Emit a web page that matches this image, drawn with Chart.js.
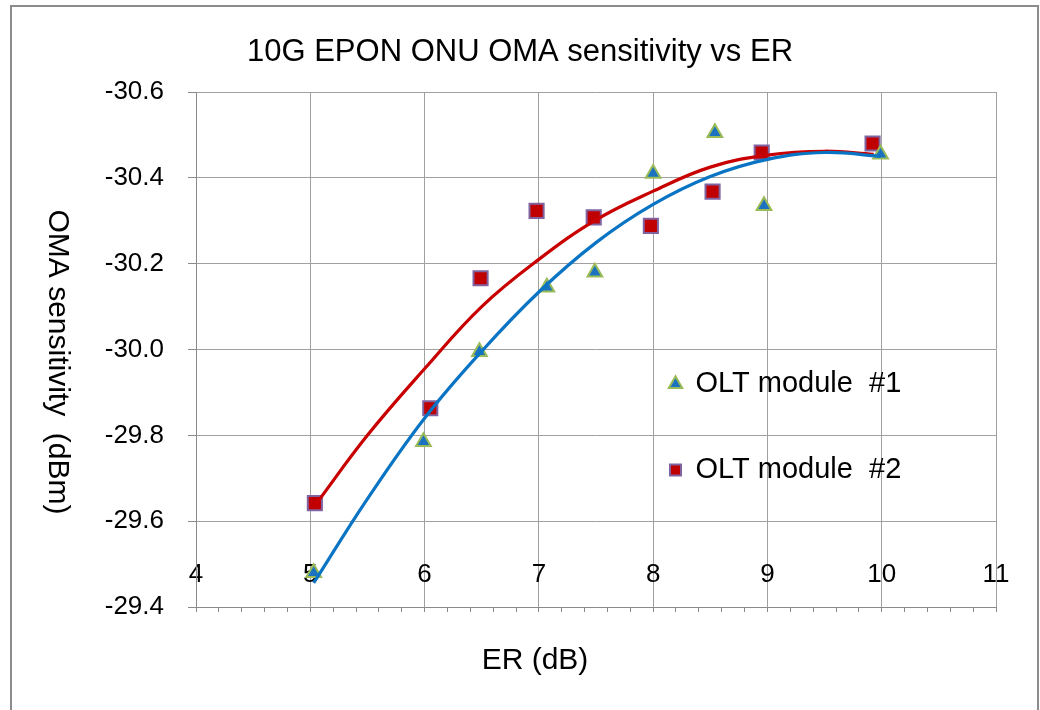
<!DOCTYPE html>
<html>
<head>
<meta charset="utf-8">
<script src="https://cdn.jsdelivr.net/npm/chart.js@4.4.1/dist/chart.umd.min.js"></script>
<style>
  html, body { margin: 0; padding: 0; background: #ffffff; }
  #wrap { width: 1040px; height: 710px; position: relative; }
</style>
</head>
<body>
<div id="wrap"><canvas id="c" width="1040" height="710"></canvas></div>
<script>
// ---- text ----
const chartTitle = '10G EPON ONU OMA sensitivity vs ER';
const xAxisTitle = 'ER (dB)';
const yAxisTitle = 'OMA sensitivity  (dBm)';
const seriesNames = ['OLT module  #1', 'OLT module  #2'];

// ---- tick labels ----
const erTicks = [4, 5, 6, 7, 8, 9, 10, 11];
const erMinorPerUnit = 5;
const omaTicks = [-30.6, -30.4, -30.2, -30.0, -29.8, -29.6, -29.4];

// ---- measured points ----
const module1ER  = [5.03, 5.99, 6.48, 7.07, 7.49, 8.00, 8.54, 8.97, 9.99];
const module1OMA = [-29.48, -29.785, -29.995, -30.145, -30.18, -30.41, -30.505, -30.335, -30.455];
const module2ER  = [5.04, 6.05, 6.49, 6.98, 7.48, 7.98, 8.52, 8.95, 9.92];
const module2OMA = [-29.642, -29.863, -30.166, -30.323, -30.308, -30.288, -30.368, -30.459, -30.48];

// ---- trend lines ----
const trend1ER  = [5.03, 5.5, 6.0, 6.5, 7.0, 7.5, 8.0, 8.5, 9.0, 9.5, 9.99];
const trend1OMA = [-29.456, -29.652, -29.84, -29.996, -30.134, -30.249, -30.338, -30.403, -30.443, -30.459, -30.45];
const trend2ER  = [5.05, 5.5, 6.0, 6.5, 7.0, 7.5, 8.0, 8.5, 9.0, 9.5, 9.93];
const trend2OMA = [-29.64, -29.80, -29.955, -30.10, -30.21, -30.302, -30.369, -30.425, -30.453, -30.462, -30.455];

const FONT = '"Liberation Sans", Arial, Helvetica, sans-serif';
Chart.defaults.font.family = FONT;
Chart.defaults.color = '#000000';

const xTickValues = [];
for (let k = erTicks[0] * erMinorPerUnit; k <= erTicks[erTicks.length - 1] * erMinorPerUnit; k++) {
  xTickValues.push(k / erMinorPerUnit);
}
const pts = (xs, ys) => xs.map((x, i) => ({ x: x, y: ys[i] }));

const GRID = '#a0a0a0';
const AXIS = '#8a8a8a';

const framePlugin = {
  id: 'framePlugin',
  beforeDraw(chart) {
    const ctx = chart.ctx;
    ctx.save();
    ctx.fillStyle = '#ffffff';
    ctx.fillRect(0, 0, chart.width, chart.height);
    ctx.strokeStyle = '#8c8c8c';
    ctx.lineWidth = 2;
    ctx.strokeRect(11, 6, 1027, 730);
    ctx.restore();
  },
  afterLayout(chart) {
    const lg = chart.legend;
    if (!lg) return;
    lg.left = 613;
    lg.top = 312.5;
    lg.right = lg.left + lg.width;
    lg.bottom = lg.top + lg.height;
  },
  afterDraw(chart) {
    const ctx = chart.ctx;
    ctx.save();
    ctx.fillStyle = '#000000';
    ctx.font = '30px ' + FONT;
    ctx.textAlign = 'center';
    ctx.textBaseline = 'middle';
    ctx.fillText(xAxisTitle, 535, 661);
    ctx.translate(57, 362);
    ctx.rotate(Math.PI / 2);
    ctx.fillText(yAxisTitle, 0, 0);
    ctx.restore();
  }
};

new Chart(document.getElementById('c'), {
  type: 'scatter',
  data: {
    datasets: [
      {
        label: seriesNames[0],
        data: pts(module1ER, module1OMA),
        pointStyle: 'triangle',
        pointRadius: 8.5,
        pointHoverRadius: 8.5,
        backgroundColor: '#1a72c0',
        borderColor: '#9bbb59',
        pointBackgroundColor: '#1a72c0',
        pointBorderColor: '#9bbb59',
        pointBorderWidth: 2,
        borderWidth: 2,
        showLine: false,
        order: 1
      },
      {
        label: seriesNames[1],
        data: pts(module2ER, module2OMA),
        pointStyle: 'rect',
        pointRadius: 10,
        pointHoverRadius: 10,
        backgroundColor: '#c00000',
        borderColor: '#8064a2',
        pointBackgroundColor: '#c00000',
        pointBorderColor: '#8064a2',
        pointBorderWidth: 2,
        borderWidth: 2,
        showLine: false,
        order: 1
      },
      {
        label: 'trend1',
        data: pts(trend1ER, trend1OMA),
        showLine: true,
        pointRadius: 0,
        pointHoverRadius: 0,
        borderColor: '#0a74c4',
        backgroundColor: '#0a74c4',
        borderWidth: 3.2,
        tension: 0.4,
        fill: false,
        order: 0
      },
      {
        label: 'trend2',
        data: pts(trend2ER, trend2OMA),
        showLine: true,
        pointRadius: 0,
        pointHoverRadius: 0,
        borderColor: '#c80000',
        backgroundColor: '#c80000',
        borderWidth: 3.2,
        tension: 0.4,
        fill: false,
        order: 0
      }
    ]
  },
  options: {
    responsive: false,
    devicePixelRatio: 1,
    animation: false,
    events: [],
    layout: { padding: { left: 10, right: 10, top: 0, bottom: 0 } },
    plugins: {
      title: {
        display: true,
        text: chartTitle,
        color: '#000000',
        font: { size: 31, weight: 'normal', family: FONT },
        padding: { top: 33.4, bottom: 21.4 }
      },
      legend: {
        display: true,
        position: 'chartArea',
        align: 'start',
        labels: {
          usePointStyle: true,
          boxWidth: 11,
          boxHeight: 11,
          padding: 57,
          color: '#000000',
          font: { size: 29, family: FONT },
          filter: item => item.datasetIndex < 2
        }
      },
      tooltip: { enabled: false }
    },
    scales: {
      x: {
        type: 'linear',
        position: 'bottom',
        min: erTicks[0],
        max: erTicks[erTicks.length - 1],
        afterBuildTicks: s => { s.ticks = xTickValues.map(v => ({ value: v })); },
        afterFit: s => { s.height = 103; },
        ticks: {
          autoSkip: false,
          maxRotation: 0,
          minRotation: 0,
          color: '#000000',
          font: { size: 26 },
          callback: () => ''
        },
        grid: {
          color: c => (c.tick && erTicks.includes(c.tick.value)) ? GRID : 'rgba(0,0,0,0)',
          tickColor: AXIS,
          tickLength: 5,
          lineWidth: 1
        },
        border: { color: AXIS, width: 1 }
      },
      xLabels: {
        type: 'linear',
        axis: 'x',
        position: { y: omaTicks[omaTicks.length - 1] },
        min: erTicks[0],
        max: erTicks[erTicks.length - 1],
        afterBuildTicks: s => { s.ticks = erTicks.map(v => ({ value: v })); },
        afterFit: s => { s.height = 0; },
        ticks: {
          autoSkip: false,
          maxRotation: 0,
          minRotation: 0,
          padding: -47.6,
          color: '#000000',
          font: { size: 26 },
          callback: v => String(v)
        },
        grid: { display: false, drawTicks: false, drawOnChartArea: false },
        border: { display: false }
      },
      y: {
        type: 'linear',
        position: 'left',
        reverse: true,
        min: omaTicks[0],
        max: omaTicks[omaTicks.length - 1],
        afterBuildTicks: s => { s.ticks = omaTicks.map(v => ({ value: v })); },
        afterFit: s => { s.width = 186; },
        ticks: {
          padding: 24,
          color: '#000000',
          font: { size: 26 },
          callback: v => Number(v).toFixed(1)
        },
        grid: { color: GRID, tickColor: AXIS, tickLength: 8, lineWidth: 1 },
        border: { color: AXIS, width: 1 }
      },
      y2: {
        type: 'linear',
        position: 'right',
        display: true,
        min: 0,
        max: 1,
        ticks: { display: false },
        grid: { display: false, drawOnChartArea: false },
        border: { display: false },
        afterFit: s => { s.width = 34; }
      }
    }
  },
  plugins: [framePlugin]
});
</script>
</body>
</html>
